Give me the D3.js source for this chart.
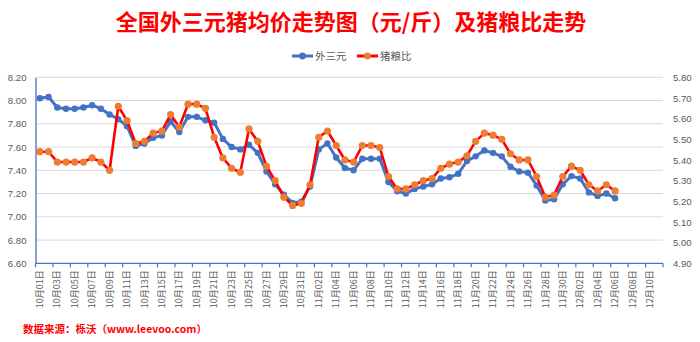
<!DOCTYPE html>
<html>
<head>
<meta charset="utf-8">
<script src="https://cdn.jsdelivr.net/npm/d3@7/dist/d3.min.js"></script>
<style>
  html, body { margin: 0; padding: 0; background: #fff; }
  svg { display: block; }
</style>
</head>
<body>
<svg id="chart" width="700" height="342"></svg>
<script>
// Daily categories 10月01日 … 12月11日
const months = [["10", 31], ["11", 30], ["12", 11]];
const categories = [];
months.forEach(([m, n]) => {
  for (let d = 1; d <= n; d++) categories.push(m + "月" + String(d).padStart(2, "0") + "日");
});

// 外三元 average price (元/斤), left axis
const priceValues = [
  8.02, 8.03, 7.94, 7.93, 7.93, 7.94, 7.96, 7.93, 7.88, 7.84,
  7.78, 7.61, 7.63, 7.68, 7.70, 7.82, 7.73, 7.86, 7.86, 7.83,
  7.81, 7.67, 7.60, 7.58, 7.62, 7.55, 7.39, 7.28, 7.19, 7.12,
  7.13, 7.26, 7.58, 7.63, 7.51, 7.42, 7.40, 7.50, 7.50, 7.50,
  7.30, 7.22, 7.20, 7.24, 7.26, 7.28, 7.33, 7.34, 7.37, 7.48,
  7.52, 7.57, 7.55, 7.52, 7.43, 7.39, 7.38, 7.27, 7.14, 7.15,
  7.28, 7.35, 7.33, 7.21, 7.18, 7.20, 7.16
];

// 猪粮比 (hog-grain ratio), right axis
const ratioValues = [
  5.44, 5.44, 5.39, 5.39, 5.39, 5.39, 5.41, 5.39, 5.35, 5.66,
  5.59, 5.48, 5.49, 5.53, 5.54, 5.62, 5.56, 5.67, 5.67, 5.65,
  5.51, 5.41, 5.36, 5.34, 5.55, 5.49, 5.37, 5.30, 5.22, 5.18,
  5.19, 5.28, 5.51, 5.54, 5.47, 5.40, 5.39, 5.47, 5.47, 5.46,
  5.32, 5.26, 5.26, 5.28, 5.30, 5.31, 5.36, 5.38, 5.39, 5.42,
  5.49, 5.53, 5.52, 5.50, 5.43, 5.40, 5.40, 5.32, 5.22, 5.23,
  5.32, 5.37, 5.35, 5.28, 5.25, 5.28, 5.25
];

const leftTicks = [6.6, 6.8, 7.0, 7.2, 7.4, 7.6, 7.8, 8.0, 8.2];
const rightTicks = [4.9, 5.0, 5.1, 5.2, 5.3, 5.4, 5.5, 5.6, 5.7, 5.8];
const seriesNames = ["外三元", "猪粮比"];
const titleText = "全国外三元猪均价走势图（元/斤）及猪粮比走势";
const sourceText = "数据来源：栎沃（www.leevoo.com）";

const svg = d3.select("#chart");
const plot = { left: 35.5, right: 663, top: 77.3, bottom: 263.3 };
const axisColor = "#4472C4";
const textColor = "#595959";
const gridColor = "#D9D9D9";
const blue = "#4472C4", red = "#FF0000", orange = "#ED7D31";
const numFont = "'Liberation Sans', Arial, sans-serif";
const cjkFont = "'Noto Sans CJK SC', 'Noto Sans', sans-serif";

const x = d3.scaleBand().domain(categories).range([plot.left, plot.right]).padding(0);
const cx = c => x(c) + x.bandwidth() / 2;
const yL = d3.scaleLinear().domain([6.6, 8.2]).range([plot.bottom, plot.top]);
const yR = d3.scaleLinear().domain([4.9, 5.8]).range([plot.bottom, plot.top]);

// Title
svg.append("text")
  .attr("x", 351).attr("y", 30)
  .attr("text-anchor", "middle")
  .attr("font-family", cjkFont).attr("font-weight", "bold")
  .attr("font-size", 22).attr("fill", "#FF0000")
  .text(titleText);

// Horizontal gridlines
svg.append("g")
  .selectAll("line").data(leftTicks.slice(1)).join("line")
  .attr("x1", plot.left).attr("x2", plot.right)
  .attr("y1", d => yL(d)).attr("y2", d => yL(d))
  .attr("stroke", gridColor).attr("stroke-width", 1);

// Left axis
const gLeft = svg.append("g").attr("transform", `translate(${plot.left},0)`)
  .call(d3.axisLeft(yL).tickValues(leftTicks).tickFormat(d3.format(".2f")).tickSize(0).tickPadding(9));
gLeft.select(".domain").attr("stroke", axisColor).attr("stroke-width", 1.3);
gLeft.selectAll("text").attr("font-family", numFont).attr("font-size", 9.6).attr("fill", textColor);

// Right axis (labels only)
const gRight = svg.append("g").attr("transform", `translate(${plot.right},0)`)
  .call(d3.axisRight(yR).tickValues(rightTicks).tickFormat(d3.format(".2f")).tickSize(0).tickPadding(10));
gRight.select(".domain").remove();
gRight.selectAll("text").attr("font-family", numFont).attr("font-size", 9.6).attr("fill", textColor);

// Bottom axis: line, ticks every second category boundary, vertical labels
const gBottom = svg.append("g");
gBottom.append("line")
  .attr("x1", plot.left).attr("x2", plot.right)
  .attr("y1", plot.bottom).attr("y2", plot.bottom)
  .attr("stroke", axisColor).attr("stroke-width", 1.3);
const tickCats = categories.filter((c, i) => i % 2 === 0);
gBottom.selectAll("line.tick").data(tickCats.concat([null])).join("line")
  .attr("class", "tick")
  .attr("x1", d => d === null ? plot.right : x(d))
  .attr("x2", d => d === null ? plot.right : x(d))
  .attr("y1", plot.bottom).attr("y2", plot.bottom + 4)
  .attr("stroke", axisColor).attr("stroke-width", 1.2);
gBottom.selectAll("text").data(tickCats).join("text")
  .attr("transform", d => `translate(${cx(d)},${plot.bottom + 7}) rotate(-90)`)
  .attr("text-anchor", "end")
  .attr("dy", "0.35em")
  .attr("font-family", cjkFont).attr("font-size", 9)
  .attr("fill", textColor)
  .text(d => d);

// Series lines and markers
function drawSeries(values, yScale, lineColor, markerColor, lineWidth, r) {
  const pts = values.map((v, i) => [cx(categories[i]), yScale(v)]);
  svg.append("path")
    .attr("d", d3.line()(pts))
    .attr("fill", "none").attr("stroke", lineColor)
    .attr("stroke-width", lineWidth).attr("stroke-linejoin", "round");
  svg.append("g").selectAll("circle").data(pts).join("circle")
    .attr("cx", d => d[0]).attr("cy", d => d[1]).attr("r", r)
    .attr("fill", markerColor);
}
drawSeries(priceValues, yL, blue, blue, 3, 3.2);
drawSeries(ratioValues, yR, red, orange, 2.6, 3.6);

// Legend
const legend = svg.append("g").attr("transform", "translate(0,56)");
const legendItems = [
  { name: seriesNames[0], line: blue, marker: blue, x0: 292 },
  { name: seriesNames[1], line: red, marker: orange, x0: 357 }
];
legendItems.forEach(it => {
  legend.append("line").attr("x1", it.x0).attr("x2", it.x0 + 21).attr("y1", 0).attr("y2", 0)
    .attr("stroke", it.line).attr("stroke-width", 3);
  legend.append("circle").attr("cx", it.x0 + 10.5).attr("cy", 0).attr("r", 3.4).attr("fill", it.marker);
  legend.append("text").attr("x", it.x0 + 23).attr("y", 0).attr("dy", "0.35em")
    .attr("font-family", cjkFont).attr("font-size", 10.5).attr("fill", textColor)
    .text(it.name);
});

// Source note
svg.append("text")
  .attr("x", 23).attr("y", 329).attr("dy", "0.35em")
  .attr("font-family", cjkFont).attr("font-weight", "bold")
  .attr("font-size", 10.5).attr("fill", "#FF0000")
  .text(sourceText);
</script>
</body>
</html>
